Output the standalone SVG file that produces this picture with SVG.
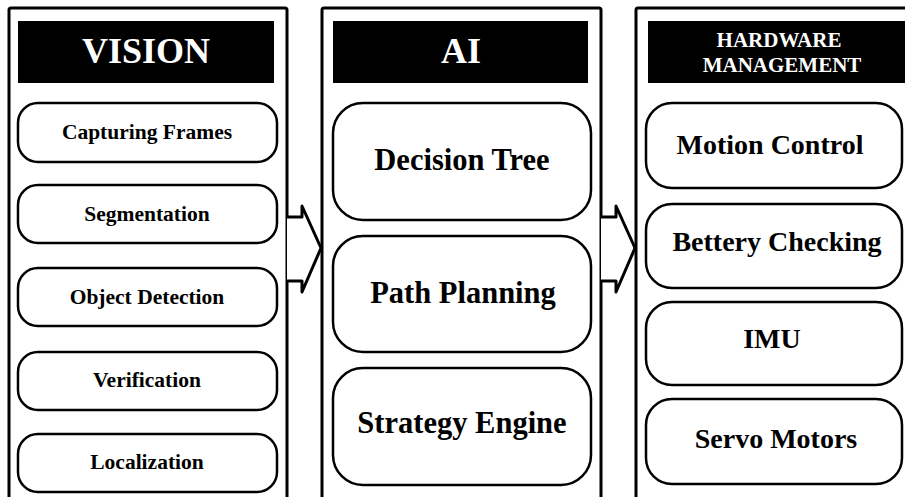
<svg xmlns="http://www.w3.org/2000/svg" width="905" height="497" viewBox="0 0 905 497" font-family="'Liberation Serif', 'Times New Roman', 'DejaVu Serif', serif">
<style>
.outer{fill:#fff;stroke:#000;stroke-width:3}
.hdr{fill:#000}
.box{fill:#fff;stroke:#000;stroke-width:2.5}
.arrow{fill:#fff;stroke:#000;stroke-width:3;stroke-linejoin:round}
text{font-family:'Liberation Serif','Times New Roman','DejaVu Serif',serif;font-weight:bold;text-anchor:middle;fill:#000}
.ht{fill:#fff}
</style>
<rect width="905" height="497" fill="#fff"/>
<g id="vision">
<rect class="outer" x="9" y="8" width="278" height="520" rx="2"/>
<rect class="hdr" x="18" y="21" width="256" height="62"/>
<text class="ht" x="146" y="63" font-size="36">VISION</text>
</g>
<g id="capturing-frames"><rect class="box" x="18" y="103" width="259" height="59" rx="20"/><text x="147" y="139" font-size="21.5">Capturing Frames</text></g>
<g id="segmentation"><rect class="box" x="18" y="185" width="259" height="58" rx="20"/><text x="147" y="221" font-size="21.5">Segmentation</text></g>
<g id="object-detection"><rect class="box" x="18" y="268" width="259" height="58" rx="20"/><text x="147" y="304" font-size="21.5">Object Detection</text></g>
<g id="verification"><rect class="box" x="18" y="352" width="259" height="58" rx="20"/><text x="147" y="387" font-size="21.5">Verification</text></g>
<g id="localization"><rect class="box" x="18" y="434" width="259" height="58" rx="20"/><text x="147" y="469" font-size="21.5">Localization</text></g>

<g id="ai">
<rect class="outer" x="322" y="8" width="279" height="520" rx="2"/>
<rect class="hdr" x="333" y="21" width="255" height="62"/>
<text class="ht" x="461" y="63" font-size="36">AI</text>
</g>
<g id="decision-tree"><rect class="box" x="333" y="103" width="258" height="117" rx="30"/><text x="462" y="170" font-size="30.5">Decision Tree</text></g>
<g id="path-planning"><rect class="box" x="333" y="236" width="258" height="116" rx="30"/><text x="463" y="303" font-size="30.5">Path Planning</text></g>
<g id="strategy-engine"><rect class="box" x="333" y="368" width="258" height="117" rx="30"/><text x="462" y="433" font-size="30.5">Strategy Engine</text></g>

<g id="hardware-management">
<rect class="outer" x="636" y="8" width="290" height="520" rx="2"/>
<rect class="hdr" x="648" y="21" width="260" height="62"/>
<text class="ht" x="779" y="47" font-size="21">HARDWARE</text>
<text class="ht" x="782" y="72" font-size="21">MANAGEMENT</text>
</g>
<g id="motion-control"><rect class="box" x="646" y="103" width="256" height="85" rx="26"/><text x="770" y="154" font-size="28">Motion Control</text></g>
<g id="bettery-checking"><rect class="box" x="646" y="204" width="256" height="84" rx="26"/><text x="777" y="251" font-size="28">Bettery Checking</text></g>
<g id="imu"><rect class="box" x="646" y="302" width="256" height="83" rx="26"/><text x="772" y="348" font-size="28">IMU</text></g>
<g id="servo-motors"><rect class="box" x="646" y="399" width="256" height="85" rx="26"/><text x="776" y="448" font-size="28">Servo Motors</text></g>

<g id="connectors">
<path class="arrow" d="M287,217 H302 V206 L321,248 L302,292 V281 H287"/>
<path class="arrow" d="M601,217 H616 V206 L635,248 L616,292 V281 H601"/>
</g>
</svg>
